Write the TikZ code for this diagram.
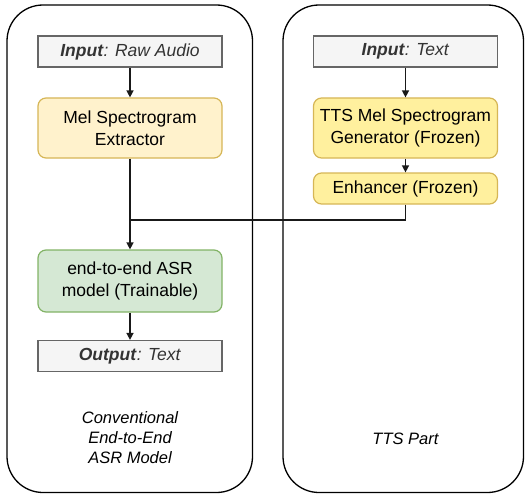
\documentclass[tikz,border=0pt]{standalone}
\usepackage{fontspec}
\setmainfont{Liberation Sans}
\usetikzlibrary{arrows.meta,positioning}
\definecolor{gfill}{HTML}{F5F5F5}
\definecolor{gline}{HTML}{666666}
\definecolor{ofill}{HTML}{FFF2CC}
\definecolor{oline}{HTML}{D6B656}
\definecolor{yfill}{HTML}{FFF09E}
\definecolor{grfill}{HTML}{D5E8D4}
\definecolor{grline}{HTML}{82B366}
\definecolor{dtext}{HTML}{333333}
\tikzset{
  container/.style={draw=black, line width=1.3pt, rounded corners=36pt},
  iobox/.style={draw=gline, fill=gfill, line width=1.2pt, minimum width=184pt, minimum height=31pt, inner sep=0pt, text=dtext, font=\fontsize{17.5}{21}\selectfont},
  procbox/.style={draw=oline, line width=1.2pt, rounded corners=8pt, minimum width=184pt, inner sep=0pt, align=center, font=\fontsize{17.5}{22.5}\selectfont},
  greenbox/.style={procbox, draw=grline, fill=grfill},
  lbl/.style={align=center, font=\fontsize{16.5}{20}\selectfont\itshape},
  conn/.style={draw=black!90, line width=1.4pt},
  arr/.style={conn, -{Triangle[length=7pt,width=7pt]}},
}
\begin{document}
\begin{tikzpicture}[x=1pt,y=-1pt]
\useasboundingbox (0,0) rectangle (525,495);
% containers
\draw[container] (7,5) rectangle (252.5,492.5);
\draw[container] (283,5) rectangle (523.5,492.5);
% left column
\node[iobox] (in1) at (130,51.5) {\textbf{\textit{Input}}\textit{: Raw Audio}};
\node[procbox, fill=ofill, minimum height=60pt] (mel) at (130,128) {Mel Spectrogram\\Extractor};
\node[greenbox, minimum height=62pt] (asr) at (130,281) {end-to-end ASR\\model (Trainable)};
\node[iobox] (out1) at (130,356) {\textbf{\textit{Output}}\textit{: Text}};
\node[lbl] (l1) at (130,438) {Conventional\\End-to-End\\ASR Model};
% right column
\node[iobox] (in2) at (405.5,51.5) {\textbf{\textit{Input}}\textit{: Text}};
\node[procbox, fill=yfill, minimum height=60pt] (tts) at (405.5,128) {TTS Mel Spectrogram\\Generator (Frozen)};
\node[procbox, fill=yfill, minimum height=31pt] (enh) at (405.5,188.5) {Enhancer (Frozen)};
\node[lbl] (l2) at (405.5,439) {TTS Part};
% connectors
\coordinate (j) at (130,220);
\draw[arr] (in1) -- (mel);
\draw[arr] (mel) -- (asr);
\draw[arr] (asr) -- (out1);
\draw[arr] (in2) -- (tts);
\draw[arr] (tts) -- (enh);
\draw[conn] (enh.south) |- (j);
\end{tikzpicture}
\end{document}
